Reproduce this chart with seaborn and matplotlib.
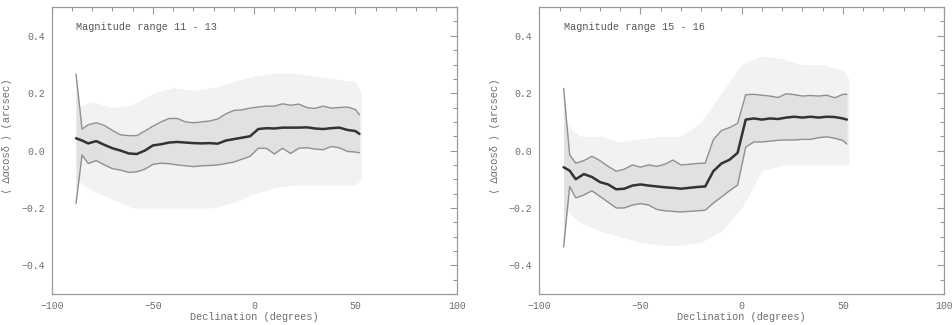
import matplotlib
matplotlib.use("Agg")
import matplotlib.pyplot as plt
from matplotlib.ticker import MultipleLocator
import seaborn as sns
import pandas as pd

# ---------------- data ----------------
dec = [-88, -85, -82, -78, -74, -70, -66, -62, -58, -54, -50, -46, -42, -38,
       -34, -30, -26, -22, -18, -14, -10, -6, -2, 2, 6, 10, 14, 18, 22, 26,
       30, 34, 38, 42, 46, 50, 52]

# Panel 1: magnitude 11 - 13
mean_a = [0.043, 0.035, 0.025, 0.033, 0.020, 0.008, 0.000, -0.010, -0.012, 0.000,
          0.018, 0.022, 0.028, 0.030, 0.028, 0.026, 0.025, 0.026, 0.024, 0.035,
          0.040, 0.045, 0.050, 0.075, 0.078, 0.077, 0.080, 0.080, 0.080, 0.081,
          0.077, 0.075, 0.078, 0.080, 0.072, 0.068, 0.058]
upper_a = [0.267, 0.075, 0.090, 0.097, 0.088, 0.070, 0.055, 0.052, 0.052, 0.068,
           0.085, 0.100, 0.112, 0.112, 0.100, 0.097, 0.100, 0.103, 0.110, 0.128,
           0.140, 0.142, 0.148, 0.152, 0.155, 0.155, 0.163, 0.158, 0.162, 0.150,
           0.147, 0.155, 0.148, 0.150, 0.152, 0.143, 0.125]
lower_a = [-0.185, -0.015, -0.045, -0.035, -0.050, -0.063, -0.068, -0.076, -0.074, -0.065,
           -0.048, -0.044, -0.046, -0.050, -0.053, -0.056, -0.053, -0.052, -0.050, -0.045,
           -0.040, -0.030, -0.020, 0.008, 0.008, -0.012, 0.008, -0.010, 0.008, 0.010,
           0.005, 0.003, 0.014, 0.010, -0.003, -0.005, -0.008]

# Panel 2: magnitude 15 - 16
mean_b = [-0.058, -0.070, -0.100, -0.082, -0.092, -0.110, -0.118, -0.135, -0.133, -0.122,
          -0.118, -0.122, -0.125, -0.128, -0.130, -0.133, -0.130, -0.127, -0.125, -0.072,
          -0.045, -0.032, -0.008, 0.108, 0.112, 0.108, 0.112, 0.110, 0.115, 0.118,
          0.115, 0.118, 0.115, 0.118, 0.117, 0.112, 0.108]
upper_b = [0.217, -0.015, -0.044, -0.035, -0.020, -0.035, -0.055, -0.072, -0.065, -0.050,
           -0.058, -0.050, -0.055, -0.048, -0.033, -0.050, -0.048, -0.045, -0.044, 0.038,
           0.070, 0.080, 0.095, 0.195, 0.196, 0.193, 0.190, 0.185, 0.198, 0.195,
           0.190, 0.192, 0.190, 0.193, 0.184, 0.196, 0.196]
lower_b = [-0.336, -0.125, -0.165, -0.155, -0.140, -0.160, -0.180, -0.200, -0.200, -0.190,
           -0.185, -0.190, -0.205, -0.210, -0.212, -0.214, -0.212, -0.210, -0.208, -0.183,
           -0.162, -0.140, -0.120, 0.012, 0.030, 0.030, 0.033, 0.036, 0.037, 0.037,
           0.039, 0.039, 0.045, 0.048, 0.043, 0.035, 0.023]

# Approximate extent of the dense star cloud behind the curves
cloud_dec = [-88, -80, -70, -60, -50, -40, -30, -20, -10, 0, 10, 20, 30, 40, 50, 53]
cloud_hi_a = [0.15, 0.17, 0.15, 0.16, 0.20, 0.22, 0.21, 0.22, 0.24, 0.26, 0.27, 0.27, 0.26, 0.25, 0.24, 0.20]
cloud_lo_a = [-0.10, -0.14, -0.17, -0.20, -0.20, -0.20, -0.20, -0.20, -0.18, -0.15, -0.13, -0.12, -0.12, -0.12, -0.12, -0.10]
cloud_hi_b = [0.10, 0.05, 0.05, 0.03, 0.04, 0.05, 0.05, 0.10, 0.20, 0.30, 0.33, 0.32, 0.30, 0.30, 0.28, 0.25]
cloud_lo_b = [-0.20, -0.25, -0.28, -0.30, -0.32, -0.33, -0.33, -0.32, -0.28, -0.20, -0.07, -0.05, -0.05, -0.05, -0.05, -0.05]

titles = ["Magnitude range 11 - 13", "Magnitude range 15 - 16"]
x_ticks = [-100, -50, 0, 50, 100]
y_ticks = [-0.4, -0.2, 0.0, 0.2, 0.4]

# ---------------- style ----------------
sns.set_style("white")
plt.rcParams['font.family'] = ['Liberation Mono', 'DejaVu Sans']

GREY_TXT = "#6e6e6e"
GREY_AX = "#9a9a9a"
FS = 6.8

fig = plt.figure(figsize=(9.52, 3.25), dpi=100)
ax_a = fig.add_axes([0.0543, 0.0954, 0.4254, 0.8826])
ax_b = fig.add_axes([0.5665, 0.0954, 0.4251, 0.8826])

panels = [
    (ax_a, mean_a, upper_a, lower_a, cloud_hi_a, cloud_lo_a, titles[0]),
    (ax_b, mean_b, upper_b, lower_b, cloud_hi_b, cloud_lo_b, titles[1]),
]

for ax, mean, up, lo, chi, clo, title in panels:
    df = pd.DataFrame({"dec": dec, "mean": mean, "upper": up, "lower": lo})
    cdf = pd.DataFrame({"dec": cloud_dec, "hi": chi, "lo": clo})

    # star cloud (soft grey bands)
    ax.fill_between(cdf["dec"], cdf["lo"], cdf["hi"], color="#f2f2f2", lw=0, zorder=1)
    ax.fill_between(df["dec"], df["lower"], df["upper"], color="#e1e1e1", lw=0, zorder=1)

    sns.lineplot(data=df, x="dec", y="upper", ax=ax, color="#909090", lw=1.0, zorder=3)
    sns.lineplot(data=df, x="dec", y="lower", ax=ax, color="#909090", lw=1.0, zorder=3)
    sns.lineplot(data=df, x="dec", y="mean", ax=ax, color="#333333", lw=1.8, zorder=4)

    ax.set_xlim(-100, 100)
    ax.set_ylim(-0.5, 0.5)
    ax.set_xticks(x_ticks)
    ax.set_xticklabels([f"{t:d}".replace("-", "\u2212") for t in x_ticks])
    ax.set_yticks(y_ticks)
    ax.set_yticklabels([f"{t:.1f}".replace("-", "\u2212") for t in y_ticks])
    ax.xaxis.set_minor_locator(MultipleLocator(10))
    ax.yaxis.set_minor_locator(MultipleLocator(0.05))
    ax.tick_params(which="both", direction="in", top=True, right=True,
                   color=GREY_AX, labelcolor=GREY_TXT, labelsize=FS + 0.3, width=0.8)
    ax.tick_params(which="major", length=5, pad=5)
    ax.tick_params(which="minor", length=2.8)
    for s in ax.spines.values():
        s.set_color(GREY_AX)
        s.set_linewidth(0.9)

    ax.set_xlabel("Declination (degrees)", fontsize=FS + 0.6, color=GREY_TXT, labelpad=1)
    ax.set_ylabel("\u27e8 \u0394\u03b1cos\u03b4 \u27e9 (arcsec)", fontsize=FS + 0.8, color=GREY_TXT)
    ax.yaxis.set_label_coords(-0.098, 0.55)
    ax.text(0.06, 0.93, title, transform=ax.transAxes, fontsize=FS + 0.5,
            color="#555555", ha="left", va="center", zorder=5)

fig.savefig("out.png", dpi=100)
